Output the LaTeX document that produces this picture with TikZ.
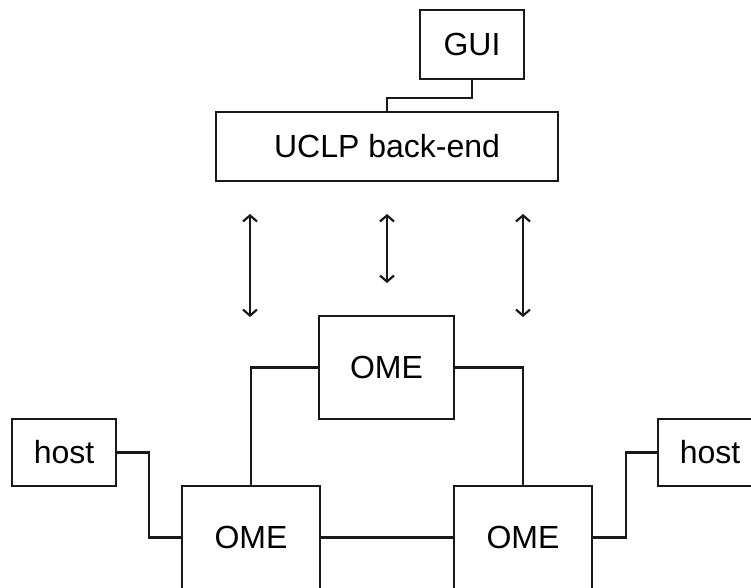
\documentclass[tikz,border=0pt]{standalone}
\usepackage{fontspec}
\setmainfont{Liberation Sans}
\usetikzlibrary{arrows.meta}
\tikzset{
  box/.style={draw=black!90, line width=2.2pt, inner sep=0pt, font=\fontsize{32}{38}\selectfont},
  wire/.style={draw=black!90, line width=2.2pt},
  dblarrow/.style={draw=black!90, line width=2.2pt, {Straight Barb[length=6pt,width=14pt,line width=2.2pt]}-{Straight Barb[length=6pt,width=14pt,line width=2.2pt]}}
}
\begin{document}
\begin{tikzpicture}[x=1pt,y=-1pt]
\useasboundingbox (0,0) rectangle (751,587);
\clip (0,0) rectangle (751,587);
\node[box, minimum width=104pt, minimum height=69pt] (gui) at (472,44.5) {GUI};
\node[box, minimum width=342pt, minimum height=69pt] (uclp) at (387,146.5) {UCLP back-end};
\node[box, minimum width=135pt, minimum height=103pt] (omeT) at (386.5,367.5) {OME};
\node[box, minimum width=104pt, minimum height=67pt] (hostL) at (64,452.5) {host};
\node[box, minimum width=104pt, minimum height=67pt] (hostR) at (710,452.5) {host};
\node[box, minimum width=138pt, minimum height=103pt] (omeL) at (251,537.5) {OME};
\node[box, minimum width=138pt, minimum height=103pt] (omeR) at (523,537.5) {OME};
\draw[wire] (gui.south) -- ++(0,17.5) -| (uclp.north);
\draw[wire] (omeT.west) -| (omeL.north);
\draw[wire] (omeT.east) -| (omeR.north);
\draw[wire] (hostL.east) -- ++(32,0) |- (omeL.west);
\draw[wire] (omeL.east) -- (omeR.west);
\draw[wire] (omeR.east) -- ++(33,0) |- (hostR.west);
\coordinate (a1t) at (250,214); \coordinate (a1b) at (250,317);
\coordinate (a2t) at (387,214); \coordinate (a2b) at (387,283);
\coordinate (a3t) at (523,214); \coordinate (a3b) at (523,317);
\draw[dblarrow] (a1t) -- (a1b);
\draw[dblarrow] (a2t) -- (a2b);
\draw[dblarrow] (a3t) -- (a3b);
\end{tikzpicture}
\end{document}
